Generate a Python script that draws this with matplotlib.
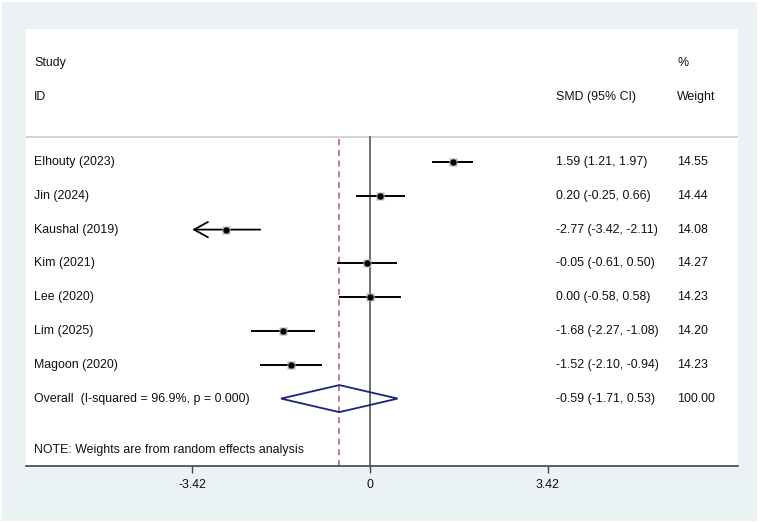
import numpy as np
import matplotlib
matplotlib.use("Agg")
import matplotlib.pyplot as plt
from matplotlib.patches import Rectangle, Polygon

plt.rcParams['font.family'] = ['Liberation Sans', 'DejaVu Sans']

# данные
studies = ["Elhouty (2023)", "Jin (2024)", "Kaushal (2019)", "Kim (2021)",
           "Lee (2020)", "Lim (2025)", "Magoon (2020)"]
smd = [1.59, 0.20, -2.77, -0.05, 0.00, -1.68, -1.52]
lo = [1.21, -0.25, -3.42, -0.61, -0.58, -2.27, -2.10]
hi = [1.97, 0.66, -2.11, 0.50, 0.58, -1.08, -0.94]
weights = ["14.55", "14.44", "14.08", "14.27", "14.23", "14.20", "14.23"]
overall = -0.59
overall_lo = -1.71
overall_hi = 0.53
overall_label = "Overall  (I-squared = 96.9%, p = 0.000)"
overall_w = "100.00"
xticks = [-3.42, 0, 3.42]
xlim_min = -3.42

bg = "#eaf2f3"
fig = plt.figure(figsize=(7.6, 5.23), dpi=100)
fig.patch.set_facecolor("white")
fig.patches.append(Rectangle((2 / 760, 2 / 523), 755 / 760, 519 / 523,
                             transform=fig.transFigure, facecolor=bg,
                             edgecolor="none", zorder=-5))

ax = fig.add_axes([26 / 760, 1 - 466 / 523, 712 / 760, 437 / 523])
ax.set_zorder(1)
ax.set_facecolor("white")
x0 = 370.0
ppu = 52.0
ax.set_xlim((26 - x0) / ppu, (738 - x0) / ppu)
step = 33.8
ax.set_ylim((466 - 162) / step, (29 - 162) / step)

fs = 8.9
xl = ax.get_xlim()[0] + 8 / ppu
xsmd = ax.get_xlim()[0] + (556 - 26) / ppu
xw = ax.get_xlim()[0] + (677 - 26) / ppu
tc = "#111111"

# заголовки
ax.text(xl, -2.93, "Study", fontsize=fs, va="center", color=tc)
ax.text(xl, -1.92, "ID", fontsize=fs, va="center", color=tc)
ax.text(xw, -2.93, "%", fontsize=fs, va="center", color=tc)
ax.text(xw, -1.92, "Weight", fontsize=fs, va="center", color=tc)
ax.text(xsmd, -1.92, "SMD (95% CI)", fontsize=fs, va="center", color=tc)
ax.axhline(-0.74, color="#cccccc", lw=1.2)

ytop = -0.74
ax.plot([0, 0], [ax.get_ylim()[0], ytop], color="#555555", lw=1.2, zorder=2)
ax.plot([overall, overall], [ax.get_ylim()[0], ytop], color="#b05a5a",
        lw=1.1, ls=(0, (4, 3)), zorder=2)

for i, name in enumerate(studies):
    ax.text(xl, i, name, fontsize=fs, va="center", color=tc)
    ax.text(xsmd, i, "%.2f (%.2f, %.2f)" % (smd[i], lo[i], hi[i]),
            fontsize=fs, va="center", color=tc)
    ax.text(xw, i, weights[i], fontsize=fs, va="center", color=tc)
    if lo[i] <= xlim_min:
        ax.annotate("", xy=(xlim_min, i), xytext=(hi[i], i),
                    arrowprops=dict(arrowstyle="->,head_length=1.0,head_width=0.55",
                                    color="black", lw=1.3,
                                    shrinkA=0, shrinkB=0), zorder=3)
    else:
        ax.plot([lo[i], hi[i]], [i, i], color="black", lw=1.4, zorder=3)
    ax.plot(smd[i], i, marker="s", ms=5.5, color="#b5b5b5", mec="none", zorder=4)
    ax.plot(smd[i], i, marker="o", ms=3.6, color="black", zorder=5)

yo = len(studies)
ax.text(xl, yo, overall_label, fontsize=fs, va="center", color=tc)
ax.text(xsmd, yo, "%.2f (%.2f, %.2f)" % (overall, overall_lo, overall_hi),
        fontsize=fs, va="center", color=tc)
ax.text(xw, yo, overall_w, fontsize=fs, va="center", color=tc)
dh = 0.4
ax.add_patch(Polygon([[overall_lo, yo], [overall, yo - dh], [overall_hi, yo],
                      [overall, yo + dh]], closed=True, fill=False,
                     edgecolor="#1a237e", lw=1.3, zorder=4))

ax.text(xl, 8.52, "NOTE: Weights are from random effects analysis",
        fontsize=fs, va="center", color=tc)

for s in ["top", "right", "left"]:
    ax.spines[s].set_visible(False)
ax.spines["bottom"].set_color("#444444")
ax.spines["bottom"].set_linewidth(1.2)
ax.set_yticks([])
ax.set_xticks(xticks)
ax.set_xticklabels(["%g" % t for t in xticks], color=tc)
ax.tick_params(axis="x", length=5, width=1, color="#444444", labelsize=fs, pad=4)

fig.savefig("out.png", dpi=100, facecolor=fig.get_facecolor())
